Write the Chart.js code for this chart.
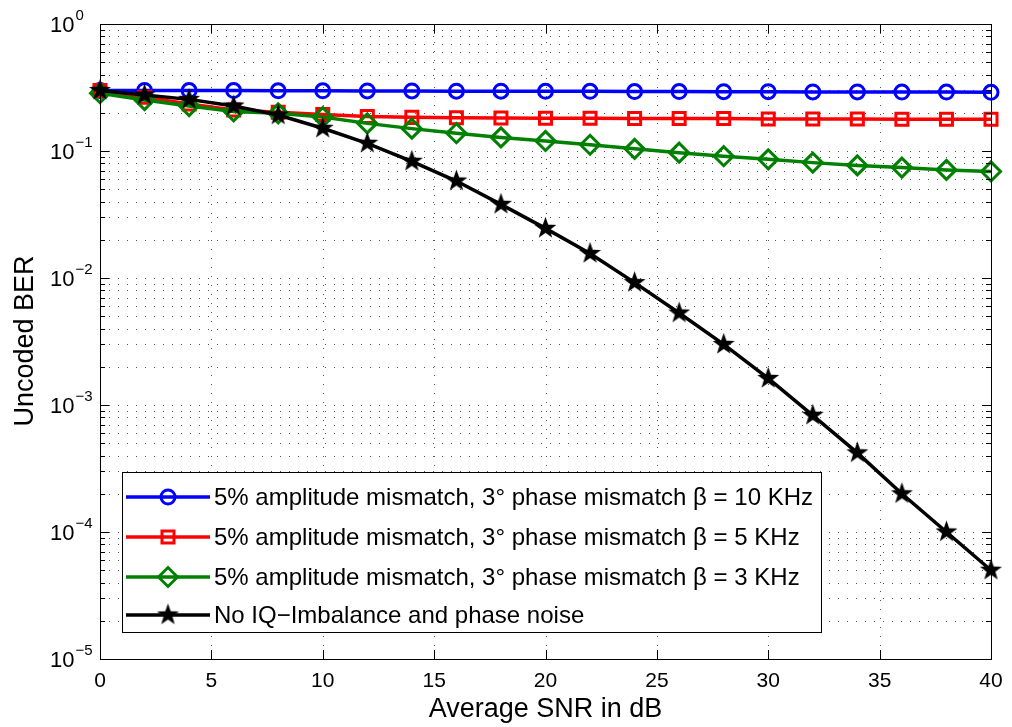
<!DOCTYPE html>
<html>
<head>
<meta charset="utf-8">
<script src="https://cdn.jsdelivr.net/npm/chart.js@4/dist/chart.umd.min.js"></script>
<style>
  html, body { margin: 0; padding: 0; background: #fff; }
  #wrap { width: 1012px; height: 727px; }
</style>
</head>
<body>
<div id="wrap"><canvas id="berChart" width="1012" height="727"></canvas></div>
<script>
// --- data ---
const snr = [0, 2, 4, 6, 8, 10, 12, 14, 16, 18, 20, 22, 24, 26, 28, 30, 32, 34, 36, 38, 40];
const berBeta10 = [0.300, 0.300, 0.299, 0.299, 0.298, 0.298, 0.297, 0.297, 0.296, 0.296, 0.295,
                   0.295, 0.294, 0.294, 0.293, 0.293, 0.292, 0.292, 0.291, 0.291, 0.290];
const berBeta5 = [0.300, 0.265, 0.235, 0.210, 0.202, 0.194, 0.187, 0.184, 0.183, 0.182, 0.181,
                  0.181, 0.180, 0.180, 0.180, 0.179, 0.179, 0.179, 0.178, 0.178, 0.178];
const berBeta3 = [0.285, 0.252, 0.226, 0.205, 0.198, 0.185, 0.165, 0.150, 0.138, 0.128, 0.120,
                  0.112, 0.104, 0.097, 0.091, 0.086, 0.081, 0.077, 0.074, 0.071, 0.069];
const berIdeal = [0.300, 0.276, 0.255, 0.226, 0.192, 0.151, 0.115, 0.083, 0.058, 0.038, 0.0246,
                  0.0156, 0.0092, 0.0053, 0.0030, 0.00162, 0.00083, 0.00042, 0.00020, 0.000100, 0.000050];
const seriesLabels = [
    "5% amplitude mismatch, 3\u00B0 phase mismatch \u03B2 = 10 KHz",
    "5% amplitude mismatch, 3\u00B0 phase mismatch \u03B2 = 5 KHz",
    "5% amplitude mismatch, 3\u00B0 phase mismatch \u03B2 = 3 KHz",
    "No IQ\u2212Imbalance and phase noise"
];
const xTicks = [0, 5, 10, 15, 20, 25, 30, 35, 40];
const yDecades = [0, -1, -2, -3, -4, -5];
const xTitle = "Average SNR in dB";
const yTitle = "Uncoded BER";

const FONT = "'Liberation Sans', Arial, Helvetica, sans-serif";

// filled five point star, like matlab's 'p' marker
function makeStar(r) {
    const c = document.createElement("canvas");
    const s = Math.ceil(r * 2 + 2);
    c.width = s; c.height = s;
    const g = c.getContext("2d");
    g.beginPath();
    for (let i = 0; i < 10; i++) {
        const rr = i % 2 === 0 ? r : r * 0.4;
        const a = -Math.PI / 2 + i * Math.PI / 5;
        const px = s / 2 + rr * Math.cos(a), py = s / 2 + rr * Math.sin(a);
        if (i === 0) g.moveTo(px, py); else g.lineTo(px, py);
    }
    g.closePath();
    g.fillStyle = "#000";
    g.fill();
    return c;
}
const star = makeStar(11.5);

function pts(arr) {
    return snr.map((x, i) => ({ x, y: arr[i] }));
}

const clear = "rgba(0,0,0,0)";

// all the matlab-ish axis decoration: dotted grid, box, inward ticks, labels, legend
const matlabAxes = {
    id: "matlabAxes",
    beforeDatasetsDraw(chart) {
        const { ctx, chartArea: a, scales: { x, y } } = chart;
        ctx.save();
        ctx.strokeStyle = "rgba(30,30,30,0.75)";
        ctx.lineWidth = 1;
        ctx.setLineDash([1, 8]);
        y.ticks.forEach(t => {
            const py = Math.round(y.getPixelForValue(t.value)) + 0.5;
            if (py <= a.top + 1 || py >= a.bottom - 1) return;
            ctx.beginPath(); ctx.moveTo(a.left, py); ctx.lineTo(a.right, py); ctx.stroke();
        });
        x.ticks.forEach(t => {
            const px = Math.round(x.getPixelForValue(t.value)) + 0.5;
            if (px <= a.left + 1 || px >= a.right - 1) return;
            ctx.beginPath(); ctx.moveTo(px, a.top); ctx.lineTo(px, a.bottom); ctx.stroke();
        });
        ctx.restore();
    },
    afterDraw(chart) {
        const { ctx, chartArea: a, scales: { x, y } } = chart;
        ctx.save();
        ctx.setLineDash([]);
        ctx.strokeStyle = "#000";
        ctx.lineWidth = 1;
        ctx.strokeRect(Math.round(a.left) + 0.5, Math.round(a.top) + 0.5,
                       Math.round(a.right - a.left), Math.round(a.bottom - a.top));

        // ticks pointing in
        ctx.beginPath();
        y.ticks.forEach(t => {
            const py = Math.round(y.getPixelForValue(t.value)) + 0.5;
            const len = t.major ? 9 : 5;
            ctx.moveTo(a.left, py); ctx.lineTo(a.left + len, py);
            ctx.moveTo(a.right, py); ctx.lineTo(a.right - len, py);
        });
        x.ticks.forEach(t => {
            const px = Math.round(x.getPixelForValue(t.value)) + 0.5;
            ctx.moveTo(px, a.bottom); ctx.lineTo(px, a.bottom - 9);
            ctx.moveTo(px, a.top); ctx.lineTo(px, a.top + 9);
        });
        ctx.stroke();

        ctx.fillStyle = "#000";
        // x tick labels
        ctx.font = "21px " + FONT;
        ctx.textAlign = "center";
        ctx.textBaseline = "top";
        xTicks.forEach(v => ctx.fillText(String(v), x.getPixelForValue(v), a.bottom + 12));

        // y tick labels 10^n
        yDecades.forEach(e => {
            const py = y.getPixelForValue(Math.pow(10, e));
            ctx.font = "22px " + FONT;
            ctx.textAlign = "left";
            ctx.textBaseline = "middle";
            ctx.fillText("10", 50, py + 2);
            const w = ctx.measureText("10").width;
            ctx.font = "15px " + FONT;
            ctx.textBaseline = "alphabetic";
            ctx.fillText(e < 0 ? "\u2212" + Math.abs(e) : String(e), 50 + w + 1, py - 4);
        });

        // axis titles
        ctx.font = "27px " + FONT;
        ctx.textAlign = "center";
        ctx.textBaseline = "alphabetic";
        ctx.fillText(xTitle, (a.left + a.right) / 2, 717);
        ctx.save();
        ctx.translate(33, 341);
        ctx.rotate(-Math.PI / 2);
        ctx.fillText(yTitle, 0, 0);
        ctx.restore();

        // legend box
        const lx = 122, ly = 472, lw = 699, lh = 160;
        ctx.fillStyle = "#fff";
        ctx.fillRect(lx, ly, lw, lh);
        ctx.strokeStyle = "#000";
        ctx.lineWidth = 1;
        ctx.strokeRect(lx + 0.5, ly + 0.5, lw, lh);
        const rowY = [497, 537, 577, 615];
        chart.data.datasets.forEach((ds, i) => {
            const cy = rowY[i];
            ctx.strokeStyle = ds.borderColor;
            ctx.lineWidth = ds.borderWidth;
            ctx.beginPath(); ctx.moveTo(126, cy); ctx.lineTo(210, cy); ctx.stroke();
            const ps = ds.pointStyle;
            if (ps instanceof HTMLCanvasElement) {
                ctx.drawImage(ps, 168 - ps.width / 2, cy - ps.height / 2);
            } else {
                ctx.fillStyle = clear;
                ctx.strokeStyle = ds.pointBorderColor;
                ctx.lineWidth = ds.pointBorderWidth;
                Chart.helpers.drawPoint(ctx, { pointStyle: ps, radius: ds.pointRadius, borderWidth: ds.pointBorderWidth }, 168, cy);
            }
            ctx.fillStyle = "#000";
            ctx.font = "24px " + FONT;
            ctx.textAlign = "left";
            ctx.textBaseline = "middle";
            ctx.fillText(ds.label, 214, cy + 1);
        });
        ctx.restore();
    }
};

new Chart(document.getElementById("berChart"), {
    type: "line",
    data: {
        datasets: [
            {
                label: seriesLabels[0], data: pts(berBeta10), order: 3,
                borderColor: "#0000ff", borderWidth: 3.5, pointStyle: "circle",
                pointRadius: 7, pointBorderWidth: 3, pointBackgroundColor: clear,
                pointBorderColor: "#0000ff", clip: false
            },
            {
                label: seriesLabels[1], data: pts(berBeta5), order: 2,
                borderColor: "#ff0000", borderWidth: 3.5, pointStyle: "rect",
                pointRadius: 8.5, pointBorderWidth: 3, pointBackgroundColor: clear,
                pointBorderColor: "#ff0000", clip: false
            },
            {
                label: seriesLabels[2], data: pts(berBeta3), order: 1,
                borderColor: "#008000", borderWidth: 3.5, pointStyle: "rectRot",
                pointRadius: 9.5, pointBorderWidth: 3, pointBackgroundColor: clear,
                pointBorderColor: "#008000", clip: false
            },
            {
                label: seriesLabels[3], data: pts(berIdeal), order: 0,
                borderColor: "#000000", borderWidth: 3.5, pointStyle: star,
                pointRadius: 11, pointBorderWidth: 0, clip: false
            }
        ]
    },
    options: {
        responsive: false,
        animation: false,
        events: [],
        layout: { padding: { top: 24, right: 21, left: 0, bottom: 0 } },
        elements: { line: { tension: 0 } },
        plugins: { legend: { display: false }, tooltip: { enabled: false } },
        scales: {
            x: {
                type: "linear", min: 0, max: 40,
                grid: { display: false }, border: { display: false },
                ticks: { display: false },
                afterBuildTicks: s => { s.ticks = xTicks.map(v => ({ value: v, major: true })); },
                afterFit: s => { s.height = 68; }
            },
            y: {
                type: "logarithmic", min: 1e-5, max: 1,
                grid: { display: false }, border: { display: false },
                ticks: { display: false },
                afterBuildTicks: s => {
                    const t = [];
                    yDecades.slice().reverse().forEach(e => {
                        for (let m = 1; m <= 9; m++) {
                            if (e === 0 && m > 1) break;
                            t.push({ value: m * Math.pow(10, e), major: m === 1 });
                        }
                    });
                    s.ticks = t;
                },
                afterFit: s => { s.width = 100; }
            }
        }
    },
    plugins: [matlabAxes]
});
</script>
</body>
</html>
